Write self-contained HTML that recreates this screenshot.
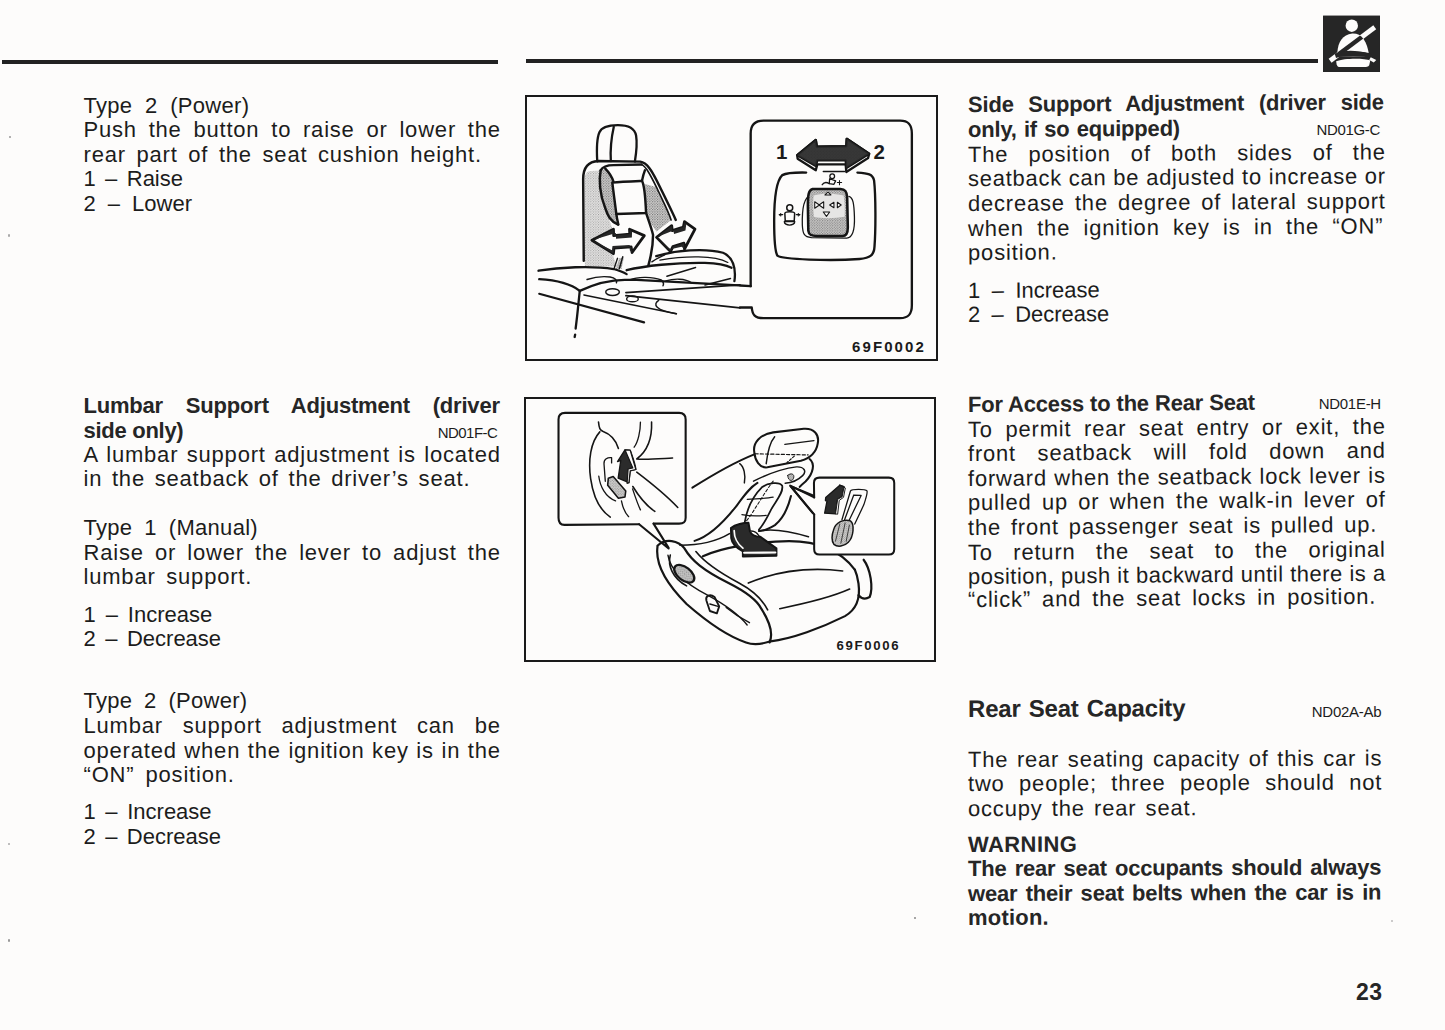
<!DOCTYPE html>
<html><head><meta charset="utf-8">
<style>
html,body{margin:0;padding:0;}
body{width:1445px;height:1030px;background:#fdfcfb;position:relative;overflow:hidden;font-family:"Liberation Sans",sans-serif;color:#1c1c1c;}
.t{position:absolute;line-height:1.149;}
.rule{position:absolute;background:#222;}
</style></head><body>
<div class="rule" style="left:2px;top:60px;width:496px;height:4px"></div>
<div class="rule" style="left:526px;top:59px;width:792px;height:4px"></div>
<div style="position:absolute;left:1323px;top:16px;width:57px;height:56px;background:#222"></div>
<div style="position:absolute;left:525px;top:95px;width:409px;height:262px;border:2px solid #1a1a1a"></div>
<div style="position:absolute;left:524px;top:397px;width:408px;height:261px;border:2px solid #1a1a1a"></div>
<div style="position:absolute;left:9px;top:136px;width:2px;height:2px;background:#999;border-radius:1px"></div>
<div style="position:absolute;left:8px;top:234px;width:2px;height:3px;background:#aaa;border-radius:1px"></div>
<div style="position:absolute;left:8px;top:843px;width:2px;height:2px;background:#aaa;border-radius:1px"></div>
<div style="position:absolute;left:8px;top:939px;width:2px;height:3px;background:#999;border-radius:1px"></div>
<div style="position:absolute;left:914px;top:917px;width:2px;height:2px;background:#888;border-radius:1px"></div>
<div style="position:absolute;left:1391px;top:920px;width:2px;height:2px;background:#bbb;border-radius:1px"></div>
<svg style="position:absolute;left:0;top:0" width="1445" height="1030" viewBox="0 0 1445 1030">
<defs>
<pattern id="dots" patternUnits="userSpaceOnUse" width="22" height="22"><rect width="22" height="22" fill="#d8d7d6"/><circle cx="5" cy="5" r="5.5" fill="#666"/><circle cx="16" cy="16" r="5.5" fill="#777"/></pattern>
<pattern id="dotsL" patternUnits="userSpaceOnUse" width="22" height="22"><rect width="22" height="22" fill="#e8e7e6"/><circle cx="5" cy="5" r="4.5" fill="#888"/><circle cx="16" cy="16" r="4.5" fill="#999"/></pattern>
<pattern id="dotsI" patternUnits="userSpaceOnUse" width="12" height="12"><rect width="12" height="12" fill="#cfcecd"/><circle cx="3" cy="3" r="2.8" fill="#666"/><circle cx="9" cy="9" r="2.8" fill="#777"/></pattern>
<pattern id="dots2" patternUnits="userSpaceOnUse" width="14" height="14"><rect width="14" height="14" fill="#d6d6d6"/><circle cx="4" cy="4" r="2.8" fill="#666"/><circle cx="11" cy="11" r="2.8" fill="#777"/></pattern>
<pattern id="dotsI2" patternUnits="userSpaceOnUse" width="12" height="12"><rect width="12" height="12" fill="#c8c7c6"/><circle cx="3" cy="3" r="2.4" fill="#666"/><circle cx="9" cy="9" r="2.4" fill="#777"/></pattern>
<pattern id="dotsI3" patternUnits="userSpaceOnUse" width="20" height="20"><rect width="20" height="20" fill="#d0cfce"/><circle cx="5" cy="5" r="4" fill="#666"/><circle cx="15" cy="15" r="4" fill="#777"/></pattern>
</defs>
<!-- FIGURE 1 seat back: crop [575,150] scale 8.584 -->
<g transform="translate(575,150) scale(0.116496)" fill="none" stroke="#151515" stroke-width="21" stroke-linecap="round" stroke-linejoin="round">
  <path d="M130 180 L 220 175 C 205 250 210 380 260 500 C 280 560 300 610 330 700 L 330 920 L 360 1000 L 85 1000 L 80 250 C 85 200 105 185 130 180 Z" fill="url(#dotsL)" stroke="none"/>
  <path d="M220 175 L 260 160 C 290 190 320 240 330 272 C 335 360 345 470 355 550 L 372 640 C 330 630 300 610 280 560 C 230 450 205 320 220 175 Z" fill="url(#dots)" stroke="none"/>
  <path d="M595 290 L 700 320 C 750 430 800 520 825 600 L 700 700 C 665 650 630 600 612 545 C 605 430 600 350 595 290 Z" fill="url(#dots)" stroke="none"/>
  <path d="M380 930 L 420 920 L 400 1020 L 350 1020 Z" fill="url(#dots)" stroke="none"/>
  <path d="M75 950 L 70 250 C 70 150 110 100 200 95 L 560 100 C 620 110 660 180 700 260 C 760 380 820 500 865 600"/>
  <path d="M570 125 C 610 140 650 220 700 320 C 750 430 800 520 825 600" stroke-width="14"/>
  <path d="M220 175 C 240 140 280 130 330 130 L 570 125"/>
  <path d="M260 160 C 290 190 320 240 330 272 M 600 175 C 590 200 580 240 575 265"/>
  <path d="M220 175 C 205 250 210 380 260 500 C 280 560 300 610 370 640"/>
  <path d="M320 280 C 390 272 500 268 575 265 C 595 300 605 420 610 540 C 520 542 430 546 355 550 C 345 470 330 360 320 280 Z"/>
  <path d="M355 550 C 360 590 368 620 372 640"/>
  <path d="M410 915 C 400 950 390 990 380 1020 M 365 930 C 355 960 345 990 335 1020" stroke-width="12"/>
  <path d="M610 540 C 630 600 660 680 670 730 C 670 800 655 900 630 990"/>
  <path d="M660 960 C 700 930 740 915 770 900" stroke-width="12"/>
  <!-- arrows -->
  <path d="M145 775 L 330 680 L 332 735 L 470 722 L 468 680 L 595 735 L 490 880 L 482 832 L 335 842 L 330 890 Z" fill="#fdfcfb" stroke-width="24"/>
  <path d="M145 775 L 330 680 L 332 735 L 470 722 L 468 680 L 490 700 L 488 752 L 352 762 L 352 712 Z" fill="#262626" stroke="none"/>
  <path d="M145 775 L 330 890 L 335 842 L 482 832 L 490 880 L 470 860 L 470 815 L 322 825 L 318 860 Z" fill="#262626" stroke="none"/>
  <path d="M700 750 L 830 650 L 835 692 L 930 662 L 940 615 L 1030 680 L 940 850 L 935 800 L 840 830 L 820 872 Z" fill="#fdfcfb" stroke-width="24"/>
  <path d="M700 750 L 830 650 L 835 692 L 930 662 L 940 615 L 955 640 L 948 690 L 850 720 L 845 690 Z" fill="#262626" stroke="none"/>
  <path d="M700 750 L 820 872 L 840 830 L 935 800 L 940 850 L 915 830 L 830 850 L 805 845 Z" fill="#262626" stroke="none"/>
</g>
<!-- FIGURE 1 cushion: crop [530,110] scale 4.119 -->
<g transform="translate(530,110) scale(0.24277)" fill="none" stroke="#151515" stroke-width="9.5" stroke-linecap="round" stroke-linejoin="round">
  <path d="M277 212 C 274 160 278 110 286 92 C 295 68 325 62 362 62 C 405 62 432 78 437 105 C 442 135 438 175 432 212"/>
  <path d="M345 70 C 336 110 330 160 333 210"/>
  <path d="M35 662 C 120 648 250 640 345 655 C 370 662 385 668 398 676"/>
  <path d="M398 660 C 470 642 600 628 720 630 C 770 632 810 640 830 650"/>
  <path d="M520 602 C 600 578 720 568 795 588 C 835 605 850 650 842 705"/>
  <path d="M535 618 C 640 600 760 598 815 628" stroke-width="5"/>
  <path d="M235 698 C 260 690 300 684 330 688 C 350 692 360 700 356 712" stroke-width="6"/>
  <path d="M410 700 C 440 688 500 684 540 700 C 550 708 552 716 548 724" stroke-width="6"/>
  <path d="M560 704 C 590 694 640 692 665 712" stroke-width="6"/>
  <path d="M38 697 C 90 700 160 710 205 745"/>
  <path d="M38 757 L 470 875" stroke-width="9"/>
  <path d="M205 745 C 200 790 196 840 188 900" />
  <path d="M186 925 L 184 935" />
  <path d="M222 762 L 603 839" stroke-width="6"/>
  <path d="M205 745 C 260 720 330 700 390 700 L 440 700 L 860 722" />
  <path d="M395 752 L 865 720" stroke-width="7"/>
  <path d="M395 765 L 865 815" stroke-width="7"/>
  <ellipse cx="340" cy="750" rx="28" ry="14" stroke-width="6"/>
  <ellipse cx="422" cy="778" rx="24" ry="12" stroke-width="6"/>
  <path d="M530 784 C 505 800 515 826 603 839" stroke-width="6"/>
  <path d="M564 685 L 682 649 M 721 721 L 826 694" stroke-width="6"/>
</g>
<!-- FIGURE 1 inset: crop [740,110] scale 4.684 -->
<g transform="translate(740,110) scale(0.21349)" fill="none" stroke="#151515" stroke-width="11" stroke-linecap="round" stroke-linejoin="round">
  <path d="M50 825 L 50 110 C 50 70 70 50 110 50 L 750 50 C 790 50 805 70 805 110 L 805 915 C 805 955 790 975 750 975 L 110 975 C 70 975 58 960 55 925 L 0 925"/>
  <path d="M50 825 L 0 822"/>
  <!-- big arrow -->
  <path d="M268 212 L 355 140 L 360 172 L 498 170 L 500 135 L 605 205 L 600 225 L 498 290 L 495 255 L 362 255 L 355 282 L 270 228 Z" fill="#fdfcfb"/>
  <path d="M268 212 L 355 140 L 360 172 L 498 170 L 500 135 L 605 205 L 498 272 L 495 236 L 362 236 L 355 262 Z" fill="url(#dots2)"/>
  <path d="M268 212 L 355 140 L 360 172 L 498 170 L 500 135 L 605 205 L 498 272 L 495 236 L 362 236 L 355 262 Z" fill="#2a2a2a" stroke="none" opacity="0.92"/>
  <!-- panel -->
  <path d="M310 293 C 260 292 215 296 198 305 C 172 330 160 420 160 520 C 160 600 162 660 175 682 C 200 700 420 708 560 698 C 610 694 628 680 630 640 C 636 560 636 400 628 330 C 622 300 600 296 550 293"/>
  <path d="M390 288 L 490 288" stroke-width="6"/>
  <!-- switch bezel -->
  <path d="M330 400 C 295 410 290 470 292 540 C 294 580 300 595 335 598 L 500 600 C 530 598 538 560 536 500 C 534 440 530 410 510 405" stroke-width="6"/>
  <path d="M340 370 C 320 375 318 400 318 450 L 320 565 C 322 585 335 590 360 590 L 480 590 C 500 590 505 575 505 550 L 502 410 C 500 380 492 372 470 370 Z" fill="url(#dotsI)" stroke-width="12"/>
  <path d="M345 400 C 342 430 342 460 346 500 C 380 510 450 508 490 500 C 492 460 490 425 485 400 C 440 390 380 390 345 400 Z" fill="#e6e5e4" stroke="none"/>
  <path d="M398 398 L 412 385 L 426 398 Z M 350 430 L 372 445 L 350 460 Z M 392 430 L 370 445 L 392 460 Z M 440 432 L 420 445 L 440 458 Z M 456 432 L 474 445 L 456 458 Z M 390 478 L 420 478 L 405 498 Z" stroke-width="5" fill="#fdfcfb"/>
  <!-- small icons -->
  <circle cx="233" cy="458" r="14" stroke-width="7"/>
  <path d="M210 485 C 210 474 256 474 256 485 L 254 520 L 212 520 Z" stroke-width="7"/>
  <path d="M208 522 C 206 545 258 545 256 522 Z" stroke-width="7"/>
  <path d="M184 490 L 200 490 M 264 490 L 280 490" stroke-width="6"/>
  <path d="M184 490 L 192 484 L 192 496 Z M 280 490 L 272 484 L 272 496 Z" fill="#151515" stroke-width="3"/>
  <circle cx="432" cy="310" r="11" stroke-width="6"/>
  <path d="M420 322 L 418 345 L 440 348 L 448 332 Z" stroke-width="6"/>
  <path d="M385 350 C 395 335 410 340 418 345" stroke-width="6"/>
  <path d="M456 340 L 476 340 M 466 330 L 466 350" stroke-width="5"/>
  <!-- numbers -->
</g>
<text x="776" y="159.3" font-family="Liberation Sans" font-weight="bold" font-size="20.5" fill="#1a1a1a">1</text>
<text x="873.5" y="159.3" font-family="Liberation Sans" font-weight="bold" font-size="20.5" fill="#1a1a1a">2</text>
<text x="852" y="352" font-family="Liberation Sans" font-weight="bold" font-size="15" letter-spacing="2.1" fill="#1a1a1a">69F0002</text>
<text x="836.5" y="650" font-family="Liberation Sans" font-weight="bold" font-size="13.2" letter-spacing="1.65" fill="#1a1a1a">69F0006</text>
<!-- FIGURE 2 main: crop [640,420] scale 4.293 -->
<g transform="translate(640,420) scale(0.232937)" fill="none" stroke="#151515" stroke-width="9.5" stroke-linecap="round" stroke-linejoin="round">
  <!-- cushion -->
  <path d="M75 545 C 65 620 110 700 200 790 C 280 860 380 930 455 955 C 490 968 525 962 560 950"/>
  <path d="M75 540 C 110 505 165 518 190 550 C 222 605 272 645 380 700 C 460 740 502 772 522 812 C 560 872 572 920 556 955"/>
  <path d="M120 580 C 130 650 200 705 290 752 C 360 790 420 830 460 880" stroke-width="6"/>
  <path d="M240 565 C 280 615 340 655 425 700 C 490 735 525 770 548 815" stroke-width="7"/>
  <path d="M270 585 C 350 548 500 522 640 520 C 760 520 860 560 922 642"/>
  <path d="M560 950 C 650 940 780 892 880 842 C 932 812 946 760 938 702 C 934 672 928 655 922 642"/>
  <path d="M465 700 C 560 660 700 628 870 648" stroke-width="7"/>
  <path d="M600 810 C 700 790 820 762 900 726" stroke-width="7"/>
  <path d="M960 600 C 990 640 1002 720 986 760 C 965 772 948 764 938 752"/>
  <path d="M130 580 C 118 625 140 680 200 712" stroke-width="7"/>
  <path d="M370 805 C 400 830 430 850 470 870" stroke-width="6"/>
  <ellipse cx="190" cy="660" rx="50" ry="28" transform="rotate(38 190 660)" fill="url(#dotsI2)" stroke-width="10"/>
  <path d="M285 775 C 280 755 300 745 320 760 L 340 800 L 330 830 L 300 820 Z" stroke-width="8"/>
  <path d="M300 790 L 335 800" stroke-width="6"/>
</g>
<!-- FIGURE 2 seatback: crop [680,420] scale 6.867 -->
<g transform="translate(680,420) scale(0.145624)" fill="none" stroke="#151515" stroke-width="14" stroke-linecap="round" stroke-linejoin="round">
  <path d="M510 220 C 500 160 545 100 640 85 L 850 60 C 920 55 958 100 946 160 C 935 230 890 262 830 280 L 600 325 C 545 332 515 275 510 220 Z" fill="#fdfcfb"/>
  <path d="M650 115 C 620 150 600 230 592 300" stroke-width="10"/>
  <path d="M515 232 L 880 240" stroke-width="8" stroke-dasharray="22 14"/>
  <path d="M720 168 L 920 142" stroke-width="9"/>
  <path d="M785 248 L 735 292" stroke-width="8" stroke-dasharray="16 12"/>
  <path d="M85 465 C 200 392 350 300 510 236"/>
  <path d="M890 268 C 928 298 918 365 862 422 C 840 440 830 450 822 460" />
  <path d="M410 300 C 440 322 452 380 442 432" stroke-width="10"/>
  <path d="M505 420 C 600 372 700 334 800 322 C 852 320 872 352 842 382 C 805 418 762 432 722 434" stroke-width="10"/>
  <path d="M740 380 C 760 360 790 370 780 400 C 770 425 740 420 740 380 Z" fill="url(#dotsI2)" stroke-width="6"/>
  <path d="M100 830 C 200 800 300 700 380 600 C 440 520 480 462 532 432"/>
  <path d="M445 700 C 462 600 502 522 562 462 C 602 432 682 420 702 452 C 712 502 652 562 622 622 C 592 682 572 722 542 752" stroke-width="12"/>
  <path d="M462 545 C 530 540 590 540 640 530 M 425 650 C 480 660 540 660 592 655" stroke-width="8"/>
  <path d="M640 420 C 600 470 560 540 520 600 C 490 650 460 690 450 700" stroke-width="7" stroke-dasharray="20 14"/>
  <path d="M762 522 C 742 602 702 682 652 722 C 602 752 562 762 542 762"/>
  <path d="M542 762 C 642 742 752 762 882 802" stroke-width="11"/>
  <path d="M0 860 C 120 860 240 840 340 780" stroke-width="11"/>
  <path d="M350 742 C 380 716 440 706 470 706 L 480 762 C 490 792 520 802 552 802 L 662 882 L 662 932 L 432 937 L 432 902 C 392 882 357 852 352 812 Z" fill="#2a2a2a"/>
  <path d="M372 760 C 372 800 392 850 432 880" stroke="#fdfcfb" stroke-width="12"/>
  <path d="M440 912 L 655 910" stroke="#fdfcfb" stroke-width="14"/>
  <path d="M480 762 C 500 760 530 770 545 800" stroke-width="10" fill="#fdfcfb"/>
  <!-- pointer to right inset -->
  <path d="M760 455 L 922 522 M 760 455 L 912 640"/>
</g>
<!-- FIGURE 2 left inset: crop [550,405] scale 7.63 -->
<g transform="translate(550,405) scale(0.131062)" fill="none" stroke="#151515" stroke-width="16" stroke-linecap="round" stroke-linejoin="round">
  <path d="M680 910 L 110 915 C 75 915 65 895 65 860 L 65 110 C 65 75 80 60 115 60 L 985 60 C 1020 60 1035 75 1035 110 L 1035 860 C 1035 895 1020 905 985 905 L 790 905"/>
  <path d="M680 910 L 905 1095 M 790 905 L 905 1090"/>
  <path d="M370 130 C 375 180 382 190 402 200 C 462 222 502 262 522 332" stroke-width="12"/>
  <path d="M380 205 C 310 282 290 422 310 562 C 330 702 380 802 460 855" stroke-width="12"/>
  <path d="M372 542 C 382 622 422 702 500 732" stroke-width="10"/>
  <path d="M545 732 C 555 782 570 822 600 852" stroke-width="10"/>
  <path d="M690 130 C 690 200 672 282 642 322" stroke-width="10"/>
  <path d="M775 130 C 780 252 742 352 662 412 C 720 420 840 410 935 405" stroke-width="12"/>
  <path d="M632 622 C 680 700 740 772 800 812" stroke-width="12"/>
  <path d="M662 512 C 780 602 900 702 975 782" stroke-width="12"/>
  <path d="M630 640 C 650 700 670 760 690 800" stroke-width="10"/>
  <path d="M422 582 L 412 448 C 410 412 440 398 470 402 L 470 442" stroke-width="10"/>
  <path d="M445 558 L 482 546 L 578 656 L 572 702 L 522 712 L 440 612 Z" fill="url(#dotsI3)" stroke-width="12"/>
  <path d="M520 558 L 540 422 L 515 432 L 572 342 L 612 345 C 632 400 652 450 655 492 L 612 502 L 602 592 Z" fill="#2b2b2b" stroke-width="10"/>
  <path d="M572 342 L 612 345 L 655 492 L 612 502 L 602 592 L 588 598 L 596 488 L 632 480 Z" fill="#fdfcfb" stroke-width="9"/>
</g>
<!-- FIGURE 2 right inset: crop [780,460] scale 9.367 -->
<g transform="translate(780,460) scale(0.106758)" fill="none" stroke="#151515" stroke-width="19" stroke-linecap="round" stroke-linejoin="round">
  <rect x="318" y="165" width="752" height="720" rx="50" fill="#fdfcfb" stroke="none"/>
  <path d="M320 350 L 318 215 C 318 180 335 165 370 165 L 1020 165 C 1055 165 1070 180 1070 215 L 1070 835 C 1070 870 1055 885 1020 885 L 370 885 C 335 885 320 870 320 835 L 320 510"/>
  <path d="M320 350 L 95 240 L 320 510"/>
  <path d="M428 352 L 560 236 L 600 252 L 582 345 L 540 368 L 520 505 L 418 498 L 440 385 L 425 380 Z" fill="#2b2b2b" stroke-width="12"/>
  <path d="M560 236 L 612 262 L 595 350 L 555 378 L 540 508 L 520 505 L 540 368 L 582 345 L 600 252 Z" fill="#fdfcfb" stroke-width="9"/>
  <path d="M660 290 C 670 270 800 270 815 290 C 822 310 805 360 785 420 L 700 600 M 660 290 L 580 560" stroke-width="12"/>
  <path d="M690 330 L 760 332 L 640 580 M 690 330 L 605 560" stroke-width="12"/>
  <path d="M500 660 C 520 580 600 550 660 570 C 700 600 690 720 640 770 C 600 810 540 820 505 790 C 480 760 485 700 500 660 Z" fill="url(#dotsI3)" stroke-width="14"/>
  <path d="M560 600 L 520 760 M 610 590 L 570 780 M 650 610 L 620 760" stroke-width="7"/>
  <!-- cushion bits visible in crop -->
</g>

<!-- seatbelt icon: crop [1300,0] scale 9.966 -->
<g transform="translate(1300,0) scale(0.100341)">
  <defs><clipPath id="bodyclip"><path d="M372 520 C 380 420 425 345 520 335 C 610 330 668 400 690 560 L 372 560 Z"/></clipPath></defs>
  <rect x="230" y="155" width="567" height="562" fill="#262626"/>
  <circle cx="516" cy="256" r="62" fill="#fdfcfb"/>
  <path d="M372 520 C 380 420 425 345 520 335 C 610 330 668 400 690 560 L 372 560 Z" fill="#fdfcfb"/>
  <path d="M300 605 L 745 272" stroke="#fdfcfb" stroke-width="48"/>
  <g clip-path="url(#bodyclip)">
    <path d="M300 605 L 745 272" stroke="#262626" stroke-width="44"/>
    <path d="M352 555 C 450 520 640 520 735 590" stroke="#262626" stroke-width="50" fill="none"/>
  </g>
  <path d="M352 555 C 430 530 650 528 700 560" stroke="#262626" stroke-width="46" fill="none"/>
  <path d="M705 570 L 760 598 L 735 622 L 690 598 Z" fill="#fdfcfb"/>
  <path d="M360 610 C 440 578 640 578 700 602 L 690 650 C 680 665 660 668 640 668 L 400 668 C 380 668 370 660 365 640 Z" fill="#fdfcfb"/>
</g>

</svg>

<div class="t" style="left:83.5px;top:92.58px;font-size:22px;line-height:25px;width:165.8px;text-align:justify;text-align-last:justify;letter-spacing:0.3px;">Type 2 (Power)</div>
<div class="t" style="left:83.5px;top:116.78px;font-size:22px;line-height:25px;width:417.3px;text-align:justify;text-align-last:justify;letter-spacing:0.8px;">Push the button to raise or lower the</div>
<div class="t" style="left:83.5px;top:141.78px;font-size:22px;line-height:25px;width:398.3px;text-align:justify;text-align-last:justify;letter-spacing:0.8px;">rear part of the seat cushion height.</div>
<div class="t" style="left:83.5px;top:166.38px;font-size:22px;line-height:25px;width:99.5px;text-align:justify;text-align-last:justify;letter-spacing:0.0px;">1 – Raise</div>
<div class="t" style="left:83.5px;top:190.88px;font-size:22px;line-height:25px;width:108.5px;text-align:justify;text-align-last:justify;letter-spacing:0.0px;">2 – Lower</div>
<div class="t" style="left:83.5px;top:392.68px;font-size:22px;line-height:25px;font-weight:bold;color:#262626;width:416.3px;text-align:justify;text-align-last:justify;letter-spacing:-0.2px;">Lumbar Support Adjustment (driver</div>
<div class="t" style="left:83.5px;top:417.58px;font-size:22px;line-height:25px;font-weight:bold;color:#262626;white-space:nowrap;letter-spacing:-0.28px;">side only)</div>
<div class="t" style="left:437.7px;top:423.80px;font-size:15px;line-height:17px;white-space:nowrap;letter-spacing:-0.53px;">ND01F-C</div>
<div class="t" style="left:83.5px;top:442.38px;font-size:22px;line-height:25px;width:417.3px;text-align:justify;text-align-last:justify;letter-spacing:0.8px;">A lumbar support adjustment is located</div>
<div class="t" style="left:83.5px;top:466.28px;font-size:22px;line-height:25px;width:386.8px;text-align:justify;text-align-last:justify;letter-spacing:0.8px;">in the seatback of the driver’s seat.</div>
<div class="t" style="left:83.5px;top:514.78px;font-size:22px;line-height:25px;width:174.5px;text-align:justify;text-align-last:justify;letter-spacing:0.3px;">Type 1 (Manual)</div>
<div class="t" style="left:83.5px;top:540.18px;font-size:22px;line-height:25px;width:417.3px;text-align:justify;text-align-last:justify;letter-spacing:0.8px;">Raise or lower the lever to adjust the</div>
<div class="t" style="left:83.5px;top:564.08px;font-size:22px;line-height:25px;width:168.7px;text-align:justify;text-align-last:justify;letter-spacing:0.8px;">lumbar support.</div>
<div class="t" style="left:83.5px;top:602.28px;font-size:22px;line-height:25px;width:128.7px;text-align:justify;text-align-last:justify;letter-spacing:0.0px;">1 – Increase</div>
<div class="t" style="left:83.5px;top:626.08px;font-size:22px;line-height:25px;width:137.6px;text-align:justify;text-align-last:justify;letter-spacing:0.0px;">2 – Decrease</div>
<div class="t" style="left:83.5px;top:688.48px;font-size:22px;line-height:25px;width:164.0px;text-align:justify;text-align-last:justify;letter-spacing:0.3px;">Type 2 (Power)</div>
<div class="t" style="left:83.5px;top:712.98px;font-size:22px;line-height:25px;width:417.3px;text-align:justify;text-align-last:justify;letter-spacing:0.8px;">Lumbar support adjustment can be</div>
<div class="t" style="left:83.5px;top:737.78px;font-size:22px;line-height:25px;width:417.3px;text-align:justify;text-align-last:justify;letter-spacing:0.8px;">operated when the ignition key is in the</div>
<div class="t" style="left:83.5px;top:762.28px;font-size:22px;line-height:25px;width:151.2px;text-align:justify;text-align-last:justify;letter-spacing:0.8px;">“ON” position.</div>
<div class="t" style="left:83.5px;top:799.28px;font-size:22px;line-height:25px;width:128.1px;text-align:justify;text-align-last:justify;letter-spacing:0.0px;">1 – Increase</div>
<div class="t" style="left:83.5px;top:823.78px;font-size:22px;line-height:25px;width:137.5px;text-align:justify;text-align-last:justify;letter-spacing:0.0px;">2 – Decrease</div>
<div class="t" style="left:967.5px;top:92.08px;font-size:22px;line-height:25px;font-weight:bold;color:#262626;transform:rotate(-0.35deg);transform-origin:1px 19.7px;width:415.9px;text-align:justify;text-align-last:justify;letter-spacing:-0.2px;">Side Support Adjustment (driver side</div>
<div class="t" style="left:967.5px;top:116.58px;font-size:22px;line-height:25px;font-weight:bold;color:#262626;transform:rotate(-0.35deg);transform-origin:1px 19.7px;width:212.0px;text-align:justify;text-align-last:justify;letter-spacing:-0.2px;">only, if so equipped)</div>
<div class="t" style="left:1316.5px;top:121.20px;font-size:15px;line-height:17px;white-space:nowrap;letter-spacing:-0.34px;">ND01G-C</div>
<div class="t" style="left:967.5px;top:142.28px;font-size:22px;line-height:25px;transform:rotate(-0.35deg);transform-origin:1px 19.7px;width:417.8px;text-align:justify;text-align-last:justify;letter-spacing:0.8px;">The position of both sides of the</div>
<div class="t" style="left:967.5px;top:166.18px;font-size:22px;line-height:25px;transform:rotate(-0.35deg);transform-origin:1px 19.7px;white-space:nowrap;letter-spacing:0.74px;">seatback can be adjusted to increase or</div>
<div class="t" style="left:967.5px;top:190.88px;font-size:22px;line-height:25px;transform:rotate(-0.35deg);transform-origin:1px 19.7px;width:417.8px;text-align:justify;text-align-last:justify;letter-spacing:0.8px;">decrease the degree of lateral support</div>
<div class="t" style="left:967.5px;top:215.68px;font-size:22px;line-height:25px;transform:rotate(-0.35deg);transform-origin:1px 19.7px;width:415.3px;text-align:justify;text-align-last:justify;letter-spacing:0.8px;">when the ignition key is in the “ON”</div>
<div class="t" style="left:967.5px;top:240.38px;font-size:22px;line-height:25px;transform:rotate(-0.35deg);transform-origin:1px 19.7px;white-space:nowrap;letter-spacing:0.85px;">position.</div>
<div class="t" style="left:967.5px;top:277.98px;font-size:22px;line-height:25px;transform:rotate(-0.35deg);transform-origin:1px 19.7px;width:131.8px;text-align:justify;text-align-last:justify;letter-spacing:0.0px;">1 – Increase</div>
<div class="t" style="left:967.5px;top:302.48px;font-size:22px;line-height:25px;transform:rotate(-0.35deg);transform-origin:1px 19.7px;width:141.3px;text-align:justify;text-align-last:justify;letter-spacing:0.0px;">2 – Decrease</div>
<div class="t" style="left:967.5px;top:391.68px;font-size:22px;line-height:25px;font-weight:bold;color:#262626;transform:rotate(-0.45deg);transform-origin:1px 19.7px;width:286.9px;text-align:justify;text-align-last:justify;letter-spacing:-0.2px;">For Access to the Rear Seat</div>
<div class="t" style="left:1318.7px;top:395.40px;font-size:15px;line-height:17px;white-space:nowrap;letter-spacing:-0.28px;">ND01E-H</div>
<div class="t" style="left:967.5px;top:416.78px;font-size:22px;line-height:25px;transform:rotate(-0.45deg);transform-origin:1px 19.7px;width:417.8px;text-align:justify;text-align-last:justify;letter-spacing:0.8px;">To permit rear seat entry or exit, the</div>
<div class="t" style="left:967.5px;top:441.18px;font-size:22px;line-height:25px;transform:rotate(-0.45deg);transform-origin:1px 19.7px;width:417.8px;text-align:justify;text-align-last:justify;letter-spacing:0.8px;">front seatback will fold down and</div>
<div class="t" style="left:967.5px;top:465.68px;font-size:22px;line-height:25px;transform:rotate(-0.45deg);transform-origin:1px 19.7px;width:417.8px;text-align:justify;text-align-last:justify;letter-spacing:0.8px;">forward when the seatback lock lever is</div>
<div class="t" style="left:967.5px;top:490.08px;font-size:22px;line-height:25px;transform:rotate(-0.45deg);transform-origin:1px 19.7px;width:417.8px;text-align:justify;text-align-last:justify;letter-spacing:0.8px;">pulled up or when the walk-in lever of</div>
<div class="t" style="left:967.5px;top:514.98px;font-size:22px;line-height:25px;transform:rotate(-0.45deg);transform-origin:1px 19.7px;width:409.3px;text-align:justify;text-align-last:justify;letter-spacing:0.8px;">the front passenger seat is pulled up.</div>
<div class="t" style="left:967.5px;top:539.98px;font-size:22px;line-height:25px;transform:rotate(-0.45deg);transform-origin:1px 19.7px;width:417.8px;text-align:justify;text-align-last:justify;letter-spacing:0.8px;">To return the seat to the original</div>
<div class="t" style="left:967.5px;top:563.58px;font-size:22px;line-height:25px;transform:rotate(-0.45deg);transform-origin:1px 19.7px;white-space:nowrap;letter-spacing:0.50px;">position, push it backward until there is a</div>
<div class="t" style="left:967.5px;top:587.28px;font-size:22px;line-height:25px;transform:rotate(-0.45deg);transform-origin:1px 19.7px;width:408.3px;text-align:justify;text-align-last:justify;letter-spacing:0.8px;">“click” and the seat locks in position.</div>
<div class="t" style="left:967.5px;top:695.08px;font-size:24px;line-height:28px;font-weight:bold;color:#262626;transform:rotate(-0.2deg);transform-origin:1px 21.9px;width:217.3px;text-align:justify;text-align-last:justify;letter-spacing:-0.2px;">Rear Seat Capacity</div>
<div class="t" style="left:1311.8px;top:702.50px;font-size:15px;line-height:17px;white-space:nowrap;letter-spacing:-0.28px;">ND02A-Ab</div>
<div class="t" style="left:967.5px;top:746.68px;font-size:22px;line-height:25px;transform:rotate(-0.2deg);transform-origin:1px 19.7px;width:414.3px;text-align:justify;text-align-last:justify;letter-spacing:0.8px;">The rear seating capacity of this car is</div>
<div class="t" style="left:967.5px;top:771.48px;font-size:22px;line-height:25px;transform:rotate(-0.2deg);transform-origin:1px 19.7px;width:414.3px;text-align:justify;text-align-last:justify;letter-spacing:0.8px;">two people; three people should not</div>
<div class="t" style="left:967.5px;top:795.58px;font-size:22px;line-height:25px;transform:rotate(-0.2deg);transform-origin:1px 19.7px;width:229.3px;text-align:justify;text-align-last:justify;letter-spacing:0.8px;">occupy the rear seat.</div>
<div class="t" style="left:967.5px;top:832.08px;font-size:22px;line-height:25px;font-weight:bold;color:#262626;transform:rotate(-0.2deg);transform-origin:1px 19.7px;white-space:nowrap;letter-spacing:0.42px;">WARNING</div>
<div class="t" style="left:967.5px;top:856.38px;font-size:22px;line-height:25px;font-weight:bold;color:#262626;transform:rotate(-0.2deg);transform-origin:1px 19.7px;width:413.3px;text-align:justify;text-align-last:justify;letter-spacing:-0.2px;">The rear seat occupants should always</div>
<div class="t" style="left:967.5px;top:880.68px;font-size:22px;line-height:25px;font-weight:bold;color:#262626;transform:rotate(-0.2deg);transform-origin:1px 19.7px;width:413.3px;text-align:justify;text-align-last:justify;letter-spacing:-0.2px;">wear their seat belts when the car is in</div>
<div class="t" style="left:967.5px;top:904.98px;font-size:22px;line-height:25px;font-weight:bold;color:#262626;transform:rotate(-0.2deg);transform-origin:1px 19.7px;white-space:nowrap;letter-spacing:0.21px;">motion.</div>
<div class="t" style="left:1356.0px;top:978.73px;font-size:23px;line-height:26px;font-weight:bold;color:#262626;white-space:nowrap;letter-spacing:0.46px;">23</div>
</body></html>
